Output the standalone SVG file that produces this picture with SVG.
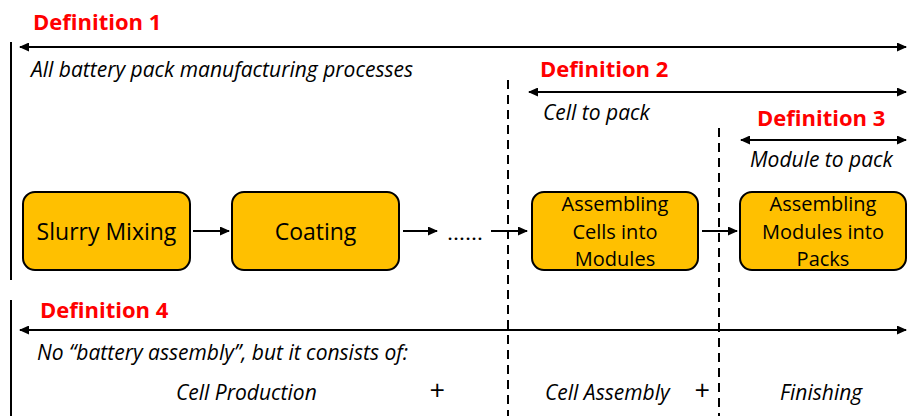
<svg xmlns="http://www.w3.org/2000/svg" width="908" height="416" viewBox="0 0 908 416">
<defs>
<marker id="ah" viewBox="0 0 10 10" refX="9" refY="5" markerWidth="10" markerHeight="9" markerUnits="userSpaceOnUse" orient="auto-start-reverse" preserveAspectRatio="none">
<path d="M0,0 L10,5 L0,10 Z" fill="#000"/>
</marker>
<style>
.def{font-family:"Open Sans",sans-serif;font-weight:bold;font-size:22px;fill:#FF0000}
.it{font-family:"Open Sans",sans-serif;font-style:italic;font-size:21px;fill:#000}
.plus{font-family:"Open Sans",sans-serif;font-style:italic;font-size:27px;fill:#000}
.box{fill:#FFC000;stroke:#000;stroke-width:2}
.bt{font-family:"Open Sans",sans-serif;font-size:23px;fill:#000;text-anchor:middle}
.bs{font-family:"Open Sans",sans-serif;font-size:20px;fill:#000;text-anchor:middle}
.ln{stroke:#000;stroke-width:2;fill:none}
.dash{stroke:#000;stroke-width:2;stroke-dasharray:9,6;fill:none}
</style>
</defs>
<rect width="908" height="416" fill="#fff"/>
<g id="frame">
<line class="ln" x1="11" y1="42" x2="11" y2="280"/>
<line class="ln" x1="11" y1="300" x2="11" y2="416"/>
<line class="dash" x1="508" y1="80" x2="508" y2="416"/>
<line class="dash" x1="719" y1="128" x2="719" y2="416"/>
</g>
<g id="def1">
<text class="def" x="33" y="29.5">Definition 1</text>
<text class="it" x="31" y="76.5">All battery pack manufacturing processes</text>
</g>
<g id="def2">
<text class="def" x="540" y="77">Definition 2</text>
<text class="it" x="543" y="120">Cell to pack</text>
</g>
<g id="def3">
<text class="def" x="757" y="126">Definition 3</text>
<text class="it" x="750" y="167">Module to pack</text>
</g>
<g id="def4">
<text class="def" x="40" y="318">Definition 4</text>
<text class="it" x="37" y="360">No “battery assembly”, but it consists of:</text>
<text class="it" x="176" y="400">Cell Production</text>
<text class="plus" x="429" y="400">+</text>
<text class="it" x="545" y="400">Cell Assembly</text>
<text class="plus" x="694" y="400">+</text>
<text class="it" x="780" y="400">Finishing</text>
</g>
<g id="connectors">
<line class="ln" x1="20" y1="47" x2="906" y2="47" marker-start="url(#ah)" marker-end="url(#ah)"/>
<line class="ln" x1="529" y1="92" x2="906" y2="92" marker-start="url(#ah)" marker-end="url(#ah)"/>
<line class="ln" x1="741" y1="140" x2="906" y2="140" marker-start="url(#ah)" marker-end="url(#ah)"/>
<line class="ln" x1="20" y1="330" x2="906" y2="330" marker-start="url(#ah)" marker-end="url(#ah)"/>
<line class="ln" x1="193" y1="231" x2="229" y2="231" marker-end="url(#ah)"/>
<line class="ln" x1="403" y1="231" x2="437" y2="231" marker-end="url(#ah)"/>
<line class="ln" x1="491" y1="231" x2="527" y2="231" marker-end="url(#ah)"/>
<line class="ln" x1="702" y1="231" x2="737" y2="231" marker-end="url(#ah)"/>
</g>
<g id="dots"><text class="bs" x="465" y="240" textLength="36" lengthAdjust="spacingAndGlyphs">……</text></g>
<g id="slurry">
<rect class="box" x="23" y="192" width="167" height="78" rx="12"/>
<text class="bt" x="106.5" y="240">Slurry Mixing</text>
</g>
<g id="coating">
<rect class="box" x="232" y="192" width="167" height="78" rx="12"/>
<text class="bt" x="315.5" y="240">Coating</text>
</g>
<g id="cells-modules">
<rect class="box" x="532" y="192" width="166" height="78" rx="12"/>
<text class="bs" x="615" y="210.5">Assembling</text>
<text class="bs" x="615" y="238.5">Cells into</text>
<text class="bs" x="615" y="266">Modules</text>
</g>
<g id="modules-packs">
<rect class="box" x="740" y="192" width="166" height="78" rx="12"/>
<text class="bs" x="823" y="210.5">Assembling</text>
<text class="bs" x="823" y="238.5">Modules into</text>
<text class="bs" x="823" y="266">Packs</text>
</g>
</svg>
